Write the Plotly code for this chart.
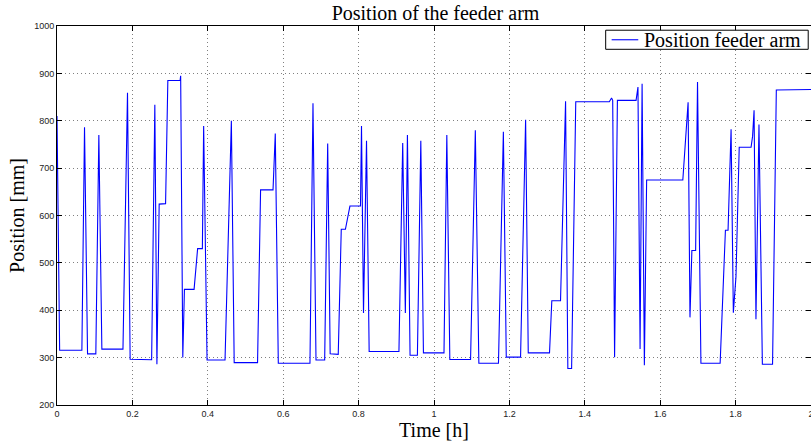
import plotly.graph_objects as go

# Time [h] and position [mm]
time_h = [0.000, 0.007, 0.066, 0.073, 0.081, 0.103, 0.111, 0.119, 0.175, 0.187,
          0.194, 0.251, 0.2595, 0.265, 0.271, 0.288, 0.294, 0.3265, 0.328, 0.3337,
          0.338, 0.3636, 0.373, 0.3856, 0.389, 0.398, 0.4457, 0.4625, 0.470, 0.532,
          0.540, 0.573, 0.579, 0.587, 0.671, 0.679, 0.687, 0.710, 0.718, 0.7246,
          0.746, 0.754, 0.765, 0.777, 0.805, 0.8077, 0.813, 0.821, 0.828, 0.907,
          0.917, 0.924, 0.9295, 0.9365, 0.956, 0.965, 0.972, 1.0265, 1.034, 1.042,
          1.097, 1.1096, 1.119, 1.171, 1.184, 1.1917, 1.2296, 1.243, 1.250, 1.3064,
          1.3125, 1.3356, 1.349, 1.355, 1.365, 1.376, 1.465, 1.471, 1.474, 1.479,
          1.4865, 1.536, 1.541, 1.5466, 1.552, 1.558, 1.564, 1.660, 1.666, 1.674,
          1.679, 1.684, 1.694, 1.699, 1.708, 1.759, 1.773, 1.780, 1.788, 1.794,
          1.801, 1.8096, 1.841, 1.845, 1.849, 1.854, 1.862, 1.871, 1.898, 1.908,
          2.000]
position_mm = [810, 315.5, 315.5, 786, 308, 308, 770, 318, 318, 859,
               296.5, 295.5, 834, 286, 624, 625, 885, 885, 895, 300.5,
               444, 444, 530, 530, 789, 295, 295, 800, 289.5, 289.5,
               654, 654, 773, 288, 288, 837, 295, 295, 752, 308,
               307, 571, 571, 620, 620, 789, 394, 758, 313, 313,
               753, 394, 770, 305, 305, 758, 310, 310, 770, 296,
               296, 780, 288, 288, 777, 301, 301, 802, 310, 310,
               420, 420, 841, 277, 277, 840, 840, 848, 843, 301,
               843, 843, 871, 318, 878, 284, 675, 675, 745, 839,
               385, 526, 526, 882, 288, 288, 569, 569, 782, 395,
               471, 744, 744, 767, 822, 381, 792, 286, 286, 865,
               866]

x_ticks = [0, 0.2, 0.4, 0.6, 0.8, 1.0, 1.2, 1.4, 1.6, 1.8, 2.0]
x_ticklabels = ["0", "0.2", "0.4", "0.6", "0.8", "1", "1.2", "1.4", "1.6", "1.8", "2"]
y_ticks = [200, 300, 400, 500, 600, 700, 800, 900, 1000]
series_name = "Position feeder arm"

serif = "Liberation Serif, Times New Roman, serif"
sans = "Liberation Sans, Arial, sans-serif"
line_color = "#0000ff"

fig = go.Figure()
fig.add_trace(go.Scatter(
    x=time_h, y=position_mm, mode="lines",
    name=series_name, showlegend=False, hoverinfo="skip",
    line=dict(color=line_color, width=1.1),
))

axis_common = dict(
    showline=True, linecolor="black", linewidth=1, mirror="ticks",
    ticks="inside", ticklen=5, tickcolor="black", tickwidth=1,
    showgrid=True, gridcolor="#808080", gridwidth=1, griddash="1px,3px",
    zeroline=False, automargin=False, ticklabeloverflow="allow",
    tickfont=dict(family=sans, size=9, color="#222"),
)

# legend box drawn in paper coordinates (top-right of the axes)
lx0, lx1, ly0, ly1 = 0.7277, 0.9963, 0.9385, 0.9889
ly_mid = (ly0 + ly1) / 2

fig.update_layout(
    width=811, height=443,
    margin=dict(l=57, r=0, t=26, b=38, autoexpand=False),
    paper_bgcolor="white", plot_bgcolor="white",
    title=dict(text="Position of the feeder arm", x=0.537, xanchor="center",
               y=1 - 13 / 443, yanchor="middle", yref="container",
               font=dict(family=serif, size=20, color="black")),
    xaxis=dict(range=[0, 2], tickvals=x_ticks, ticktext=x_ticklabels,
               title=dict(text="Time [h]", font=dict(family=serif, size=20, color="black"),
                          standoff=0),
               **axis_common),
    yaxis=dict(range=[200, 1000], tickvals=y_ticks,
               title=dict(text="Position [mm]", font=dict(family=serif, size=20, color="black"),
                          standoff=4),
               **axis_common),
    showlegend=False,
    shapes=[
        dict(type="rect", xref="paper", yref="paper", x0=lx0, x1=lx1, y0=ly0, y1=ly1,
             line=dict(color="black", width=1), fillcolor="white", layer="above"),
        dict(type="line", xref="paper", yref="paper", x0=0.7356, x1=0.7709,
             y0=ly_mid, y1=ly_mid, line=dict(color=line_color, width=1.1), layer="above"),
    ],
    annotations=[
        dict(text=series_name, xref="paper", yref="paper", x=0.7755, y=ly_mid,
             xanchor="left", yanchor="middle", showarrow=False,
             font=dict(family=serif, size=20, color="black")),
    ],
)

fig.write_html("out.html", config={"displayModeBar": False},
               post_script="document.body.style.margin='0';document.body.style.overflow='hidden';")
